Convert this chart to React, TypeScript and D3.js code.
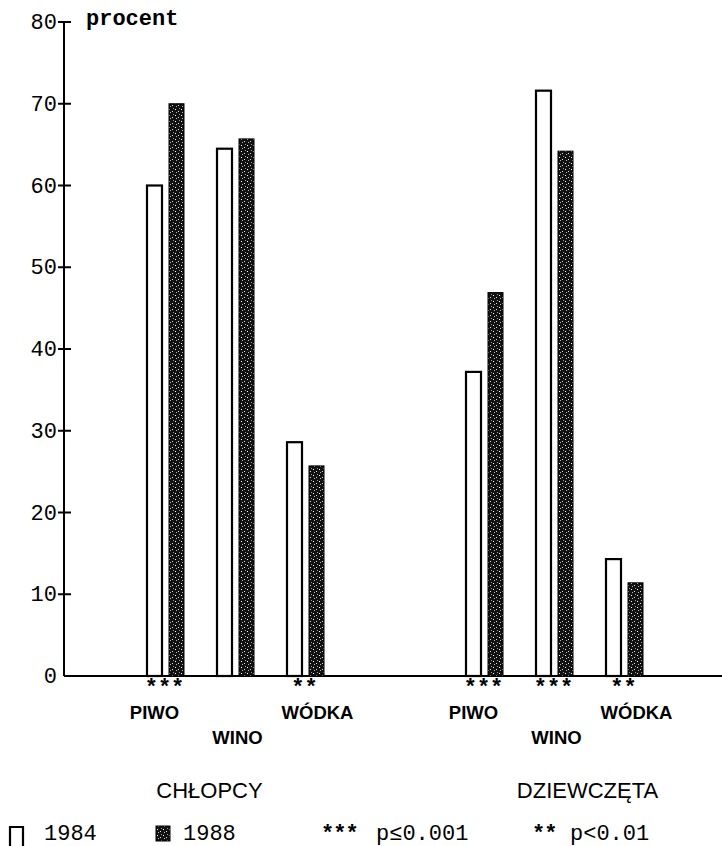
import React from "react";
import * as d3 from "d3";

const groups = ["CHŁOPCY", "DZIEWCZĘTA"];
const drinks = ["PIWO", "WINO", "WÓDKA"];
const years = ["1984", "1988"];
const values1984 = [60, 64.5, 28.6, 37.2, 71.6, 14.3];
const values1988 = [70, 65.7, 25.7, 46.9, 64.2, 11.4];
const significance = ["***", "", "**", "***", "***", "**"];
const yTicks = [0, 10, 20, 30, 40, 50, 60, 70, 80];
const legendSig = [
  { stars: "***", label: "p≤0.001" },
  { stars: "**", label: "p<0.01" },
];

const W = 722;
const H = 846;
const axisX = 64;
const mono = "'Liberation Mono', 'DejaVu Sans Mono', monospace";
const sans = "'Liberation Sans', Arial, sans-serif";

export default function App() {
  const y = d3.scaleLinear().domain([0, 80]).range([676, 22]);
  const xGroup = d3.scaleBand<string>().domain(groups).range([76, 714]).padding(0);
  const xDrink = d3
    .scaleBand<string>()
    .domain(drinks)
    .range([-105, 105])
    .padding(0);
  const xYear = d3
    .scaleBand<string>()
    .domain(years)
    .range([-18.5, 18.5])
    .paddingInner(7 / 22)
    .paddingOuter(0);

  const pairCenter = (gi: number, di: number) =>
    (xGroup(groups[gi]) as number) +
    xGroup.bandwidth() / 2 +
    (xDrink(drinks[di]) as number) +
    xDrink.bandwidth() / 2;

  const labelOffset: Record<string, number> = { PIWO: -11, WINO: 2, "WÓDKA": 12 };
  const labelDy: Record<string, number> = { PIWO: 719, WINO: 744, "WÓDKA": 719 };

  const starStyle = {
    fontFamily: mono,
    fontWeight: "bold" as const,
    fontSize: 22,
    letterSpacing: 0,
  };

  const bars: JSX.Element[] = [];
  const stars: JSX.Element[] = [];
  const labels: JSX.Element[] = [];
  groups.forEach((g, gi) => {
    drinks.forEach((d, di) => {
      const idx = gi * 3 + di;
      const c = pairCenter(gi, di);
      const v84 = values1984[idx];
      const v88 = values1988[idx];
      const x84 = c + (xYear("1984") as number);
      const x88 = c + (xYear("1988") as number);
      bars.push(
        <rect
          key={`a${idx}`}
          x={x84}
          y={y(v84)}
          width={xYear.bandwidth()}
          height={y(0) - y(v84)}
          fill="#fff"
          stroke="#000"
          strokeWidth={2.2}
        />
      );
      bars.push(
        <rect
          key={`b${idx}`}
          x={x88}
          y={y(v88)}
          width={xYear.bandwidth()}
          height={y(0) - y(v88)}
          fill="url(#speckle)"
          stroke="#000"
          strokeWidth={1}
        />
      );
      if (significance[idx]) {
        stars.push(
          <text
            key={`s${idx}`}
            x={c - 1}
            y={694}
            textAnchor="middle"
            {...starStyle}
            fill="#000"
          >
            {significance[idx]}
          </text>
        );
      }
      labels.push(
        <text
          key={`l${idx}`}
          x={c + labelOffset[d]}
          y={labelDy[d]}
          textAnchor="middle"
          fontFamily={sans}
          fontWeight="bold"
          fontSize={18.5}
          fill="#000"
        >
          {d}
        </text>
      );
    });
  });

  return (
    <svg
      width={W}
      height={H}
      viewBox={`0 0 ${W} ${H}`}
      style={{ position: "absolute", left: 0, top: 0, background: "#fff" }}
    >
      <defs>
        <pattern id="speckle" width="6" height="6" patternUnits="userSpaceOnUse">
          <rect width="6" height="6" fill="#111" />
          <rect x="1" y="1" width="1" height="1" fill="#fff" />
          <rect x="4" y="3" width="1" height="1" fill="#ddd" />
          <rect x="2" y="4" width="1" height="1" fill="#bbb" />
          <rect x="5" y="0" width="1" height="1" fill="#999" />
        </pattern>
      </defs>

      {/* axes */}
      <line x1={axisX} y1={y(80)} x2={axisX} y2={y(0)} stroke="#000" strokeWidth={2} />
      <line x1={axisX} y1={y(0)} x2={W} y2={y(0)} stroke="#000" strokeWidth={2} />
      {yTicks.map((t) => (
        <g key={t}>
          {t > 0 && (
            <line x1={58} x2={71} y1={y(t)} y2={y(t)} stroke="#000" strokeWidth={2} />
          )}
          <text
            x={57}
            y={y(t)}
            dy="0.32em"
            textAnchor="end"
            fontFamily={mono}
            fontSize={22}
            fill="#000"
          >
            {t}
          </text>
        </g>
      ))}
      <text x={86} y={25} fontFamily={mono} fontWeight="bold" fontSize={22} fill="#000">
        procent
      </text>

      {bars}
      {stars}
      {labels}

      {groups.map((g, gi) => (
        <text
          key={g}
          x={(xGroup(g) as number) + xGroup.bandwidth() / 2 + (gi === 0 ? -26 : 33)}
          y={798}
          textAnchor="middle"
          fontFamily={sans}
          fontSize={22}
          fill="#000"
        >
          {g}
        </text>
      ))}

      {/* legend */}
      <path d="M10,846 V827 H23 V846" fill="none" stroke="#000" strokeWidth={2.2} />
      <text x={44} y={840} fontFamily={mono} fontSize={22} fill="#000">
        {years[0]}
      </text>
      <rect x={156} y={826} width={14} height={15} fill="url(#speckle)" stroke="#000" strokeWidth={1} />
      <text x={183} y={840} fontFamily={mono} fontSize={22} fill="#000">
        {years[1]}
      </text>
      <text x={321} y={840} {...starStyle} letterSpacing={-1} fill="#000">
        {legendSig[0].stars}
      </text>
      <text x={376} y={840} fontFamily={mono} fontSize={22} fill="#000">
        {legendSig[0].label}
      </text>
      <text x={532} y={840} {...starStyle} letterSpacing={-1} fill="#000">
        {legendSig[1].stars}
      </text>
      <text x={570} y={840} fontFamily={mono} fontSize={22} fill="#000">
        {legendSig[1].label}
      </text>
    </svg>
  );
}
